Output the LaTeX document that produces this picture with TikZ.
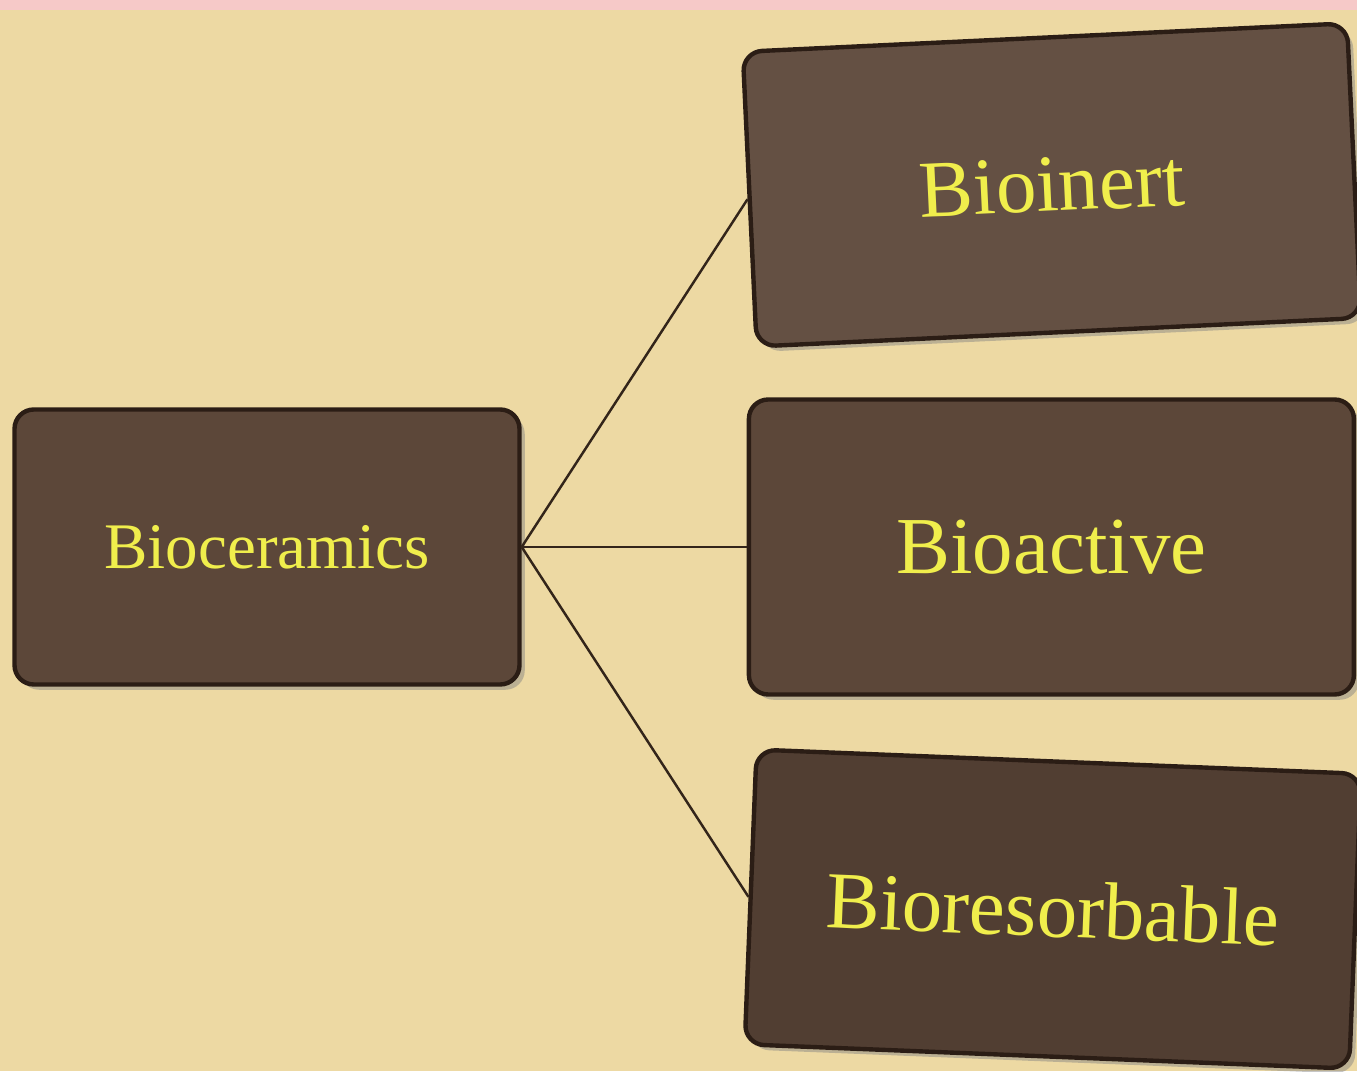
\documentclass[tikz,border=0pt]{standalone}
\usepackage{fontspec}
\setmainfont{Liberation Serif}
\usetikzlibrary{positioning, shadows}
\definecolor{parchment}{HTML}{EDD9A3}
\definecolor{blush}{HTML}{F6C9C8}
\definecolor{cocoa}{HTML}{5C4739}
\definecolor{cocoaedge}{HTML}{2B1D15}
\definecolor{lemon}{HTML}{F0EE4C}
\definecolor{twig}{HTML}{33251A}
\tikzset{
  tile/.style={
    rectangle, rounded corners=11pt, minimum width=12.1cm, minimum height=5.9cm,
    align=center, font=\fontsize{46}{50}\selectfont, text=lemon,
    draw=cocoaedge, line width=2.5pt, fill=#1,
    drop shadow={shadow xshift=3pt, shadow yshift=-3pt, opacity=0.45}
  },
  tile/.default=cocoa,
  branch/.style={
    line width=1.4pt, color=twig
  }
}
\begin{document}
\begin{tikzpicture}[node distance=1.25cm and 4.5cm]

  % Backdrop
  \fill[parchment] (0,0) rectangle (27.14,21.42);
  \fill[blush] (0,21.22) rectangle (27.14,21.42);
  \useasboundingbox (0,0) rectangle (27.14,21.42);

  % Root
  \node[tile, minimum width=10.1cm, minimum height=5.5cm,
        font=\fontsize{37}{40}\selectfont] (bioceramics) at (5.34,10.48) {Bioceramics};

  % Classes
  \node[tile, right=of bioceramics] (bioactive) {Bioactive};
  \node[tile=cocoa!95!white, rotate=2.7, above=of bioactive, xshift=0.15cm] (bioinert) {Bioinert};
  \node[tile=cocoa!88!black, rotate=-2.3, below=of bioactive, xshift=0.15cm] (bioresorbable) {Bioresorbable};

  % Branches
  \draw[branch] (bioceramics.east) -- (bioinert.west);
  \draw[branch] (bioceramics.east) -- (bioactive.west);
  \draw[branch] (bioceramics.east) -- (bioresorbable.west);

\end{tikzpicture}
\end{document}
